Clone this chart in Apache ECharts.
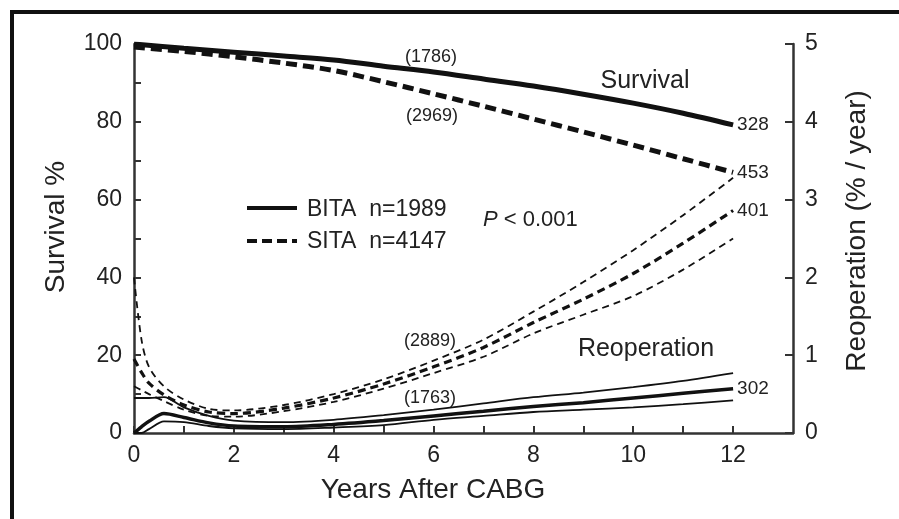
<!DOCTYPE html>
<html>
<head>
<meta charset="utf-8">
<script src="https://cdn.jsdelivr.net/npm/echarts@6/dist/echarts.min.js"></script>
<style>
  html, body { margin: 0; padding: 0; background: #fff; }
  #chart { width: 899px; height: 519px; }
</style>
</head>
<body>
<div id="chart"></div>
<script>
// survival, yearly points (%)
const years = [0, 1, 2, 3, 4, 5, 6, 7, 8, 9, 10, 11, 12];
const bitaSurvival = [100, 98.9, 97.9, 96.9, 95.9, 94.3, 92.8, 91, 89.2, 87.1, 84.8, 82.2, 79.2];
const sitaSurvival = [99.2, 98.1, 96.7, 95.1, 93.2, 90.3, 87.2, 84, 80.7, 77.4, 74, 70.5, 67];

// reoperation hazard (% / year) with confidence limits
const reopYears = [0, 0.15, 0.3, 0.6, 1, 1.5, 2, 3, 4, 5, 6, 7, 8, 9, 10, 11, 12];
const sitaReop = [0.95, 0.78, 0.64, 0.49, 0.36, 0.27, 0.25, 0.32, 0.45, 0.63, 0.85, 1.1, 1.42, 1.72, 2.05, 2.44, 2.86];
const sitaReopUpper = [2.0, 1.2, 0.85, 0.6, 0.43, 0.31, 0.29, 0.36, 0.5, 0.69, 0.93, 1.2, 1.56, 1.94, 2.35, 2.8, 3.28];
const sitaReopLower = [0.6, 0.55, 0.5, 0.41, 0.3, 0.22, 0.21, 0.28, 0.4, 0.57, 0.77, 0.98, 1.28, 1.52, 1.76, 2.1, 2.5];
const bitaReop = [0, 0.08, 0.15, 0.25, 0.2, 0.13, 0.09, 0.08, 0.11, 0.16, 0.22, 0.28, 0.34, 0.39, 0.45, 0.51, 0.57];
const bitaReopUpper = [0.45, 0.45, 0.45, 0.46, 0.33, 0.22, 0.16, 0.14, 0.17, 0.23, 0.3, 0.38, 0.46, 0.52, 0.59, 0.67, 0.77];
const bitaReopLower = [0, 0, 0.05, 0.15, 0.14, 0.09, 0.06, 0.05, 0.07, 0.1, 0.17, 0.22, 0.27, 0.3, 0.33, 0.37, 0.42];

// axis ticks
const xTicks = [0, 1, 2, 3, 4, 5, 6, 7, 8, 9, 10, 11, 12];
const xLabels = [0, 2, 4, 6, 8, 10, 12];

const legendNames = ["BITA  n=1989", "SITA  n=4147"];

const FONT = "'Liberation Sans', Arial, Helvetica, sans-serif";
const INK = "#111";
const AXIS = "#333";
const TEXT = "#222";

const zip = (xs, ys) => xs.map((x, i) => [x, ys[i]]);

const chart = echarts.init(document.getElementById("chart"));

function reopLine(data, width, dashed, end) {
  return {
    type: "line",
    yAxisIndex: 1,
    data: data,
    smooth: 0.3,
    symbol: "none",
    silent: true,
    lineStyle: {
      color: INK,
      width: width,
      type: dashed ? (width > 2.5 ? [8, 5] : [7, 5]) : "solid",
    },
    endLabel: end
      ? { show: true, formatter: end, distance: 4, fontSize: 19, color: TEXT, fontFamily: FONT }
      : { show: false },
  };
}

function label(text, x, y, size, extra) {
  return {
    type: "text",
    x: x,
    y: y,
    silent: true,
    ...(extra || {}),
    style: { text: text, fontSize: size, fontFamily: FONT, fill: TEXT, align: "center", verticalAlign: "middle" },
  };
}

const option = {
  animation: false,
  backgroundColor: "#fff",
  textStyle: { fontFamily: FONT },
  grid: { left: 134, right: 106, top: 44, bottom: 86 },
  xAxis: {
    type: "value",
    min: 0,
    max: 13.2,
    axisLine: { show: true, lineStyle: { color: AXIS, width: 2.5 } },
    axisTick: { show: true, inside: true, length: 7, customValues: xTicks, lineStyle: { color: AXIS, width: 2 } },
    axisLabel: { customValues: xLabels, fontSize: 23, color: TEXT, margin: 11, fontFamily: FONT },
    splitLine: { show: false },
  },
  yAxis: [
    {
      type: "value",
      min: 0,
      max: 100,
      interval: 10,
      axisLine: { show: true, lineStyle: { color: AXIS, width: 2.5 } },
      axisTick: { show: true, inside: true, length: 7, lineStyle: { color: AXIS, width: 2 } },
      axisLabel: {
        fontSize: 23,
        color: TEXT,
        margin: 12,
        fontFamily: FONT,
        formatter: (v) => (v % 20 === 0 ? String(v) : ""),
      },
      splitLine: { show: false },
    },
    {
      type: "value",
      min: 0,
      max: 5,
      interval: 1,
      position: "right",
      axisLine: { show: true, lineStyle: { color: AXIS, width: 2.5 } },
      axisTick: { show: true, inside: true, length: 8, lineStyle: { color: AXIS, width: 2 } },
      axisLabel: { fontSize: 23, color: TEXT, margin: 12, fontFamily: FONT },
      splitLine: { show: false },
    },
  ],
  series: [
    {
      name: legendNames[0],
      type: "line",
      data: zip(years, bitaSurvival),
      smooth: 0.3,
      symbol: "none",
      lineStyle: { color: INK, width: 5 },
      endLabel: { show: true, formatter: "328", distance: 4, fontSize: 19, color: TEXT, fontFamily: FONT },
    },
    {
      name: legendNames[1],
      type: "line",
      data: zip(years, sitaSurvival),
      smooth: 0.3,
      symbol: "none",
      lineStyle: { color: INK, width: 5, type: [11, 6] },
      endLabel: { show: true, formatter: "453", distance: 4, fontSize: 19, color: TEXT, fontFamily: FONT },
    },
    reopLine(zip(reopYears, sitaReopUpper), 1.8, true),
    reopLine(zip(reopYears, sitaReopLower), 1.8, true),
    reopLine(zip(reopYears, sitaReop), 3.2, true, "401"),
    reopLine(zip(reopYears, bitaReopUpper), 1.8, false),
    reopLine(zip(reopYears, bitaReopLower), 1.8, false),
    reopLine(zip(reopYears, bitaReop), 3.5, false, "302"),
  ],
  graphic: [
    // outer frame, only top and left edges are visible
    {
      type: "polyline",
      silent: true,
      shape: { points: [[12, 519], [12, 12], [899, 12]] },
      style: { stroke: INK, lineWidth: 4, fill: null },
    },
    // legend
    { type: "line", silent: true, shape: { x1: 247, y1: 208, x2: 297, y2: 208 }, style: { stroke: INK, lineWidth: 4 } },
    { type: "line", silent: true, shape: { x1: 247, y1: 241, x2: 297, y2: 241 }, style: { stroke: INK, lineWidth: 4, lineDash: [10, 5] } },
    { type: "text", silent: true, x: 307, y: 210, style: { text: legendNames[0], fontSize: 23, fontFamily: FONT, fill: TEXT, align: "left", verticalAlign: "middle" } },
    { type: "text", silent: true, x: 307, y: 242, style: { text: legendNames[1], fontSize: 23, fontFamily: FONT, fill: TEXT, align: "left", verticalAlign: "middle" } },
    // annotations
    label("(1786)", 431, 57, 18),
    label("(2969)", 432, 116, 18),
    label("(2889)", 430, 341, 18),
    label("(1763)", 430, 398, 18),
    label("Survival", 645, 81, 25),
    label("Reoperation", 646, 349, 25),
    {
      type: "text",
      silent: true,
      x: 483,
      y: 220,
      style: {
        text: "{i|P} < 0.001",
        fontSize: 22,
        fontFamily: FONT,
        fill: TEXT,
        align: "left",
        verticalAlign: "middle",
        rich: { i: { fontStyle: "italic", fontSize: 22, fontFamily: FONT, fill: TEXT } },
      },
    },
    // axis titles
    label("Years After CABG", 433, 490, 28),
    label("Survival %", 56, 227, 28, { rotation: Math.PI / 2 }),
    label("Reoperation (% / year)", 857, 231, 28, { rotation: Math.PI / 2 }),
  ],
};

chart.setOption(option);
</script>
</body>
</html>
